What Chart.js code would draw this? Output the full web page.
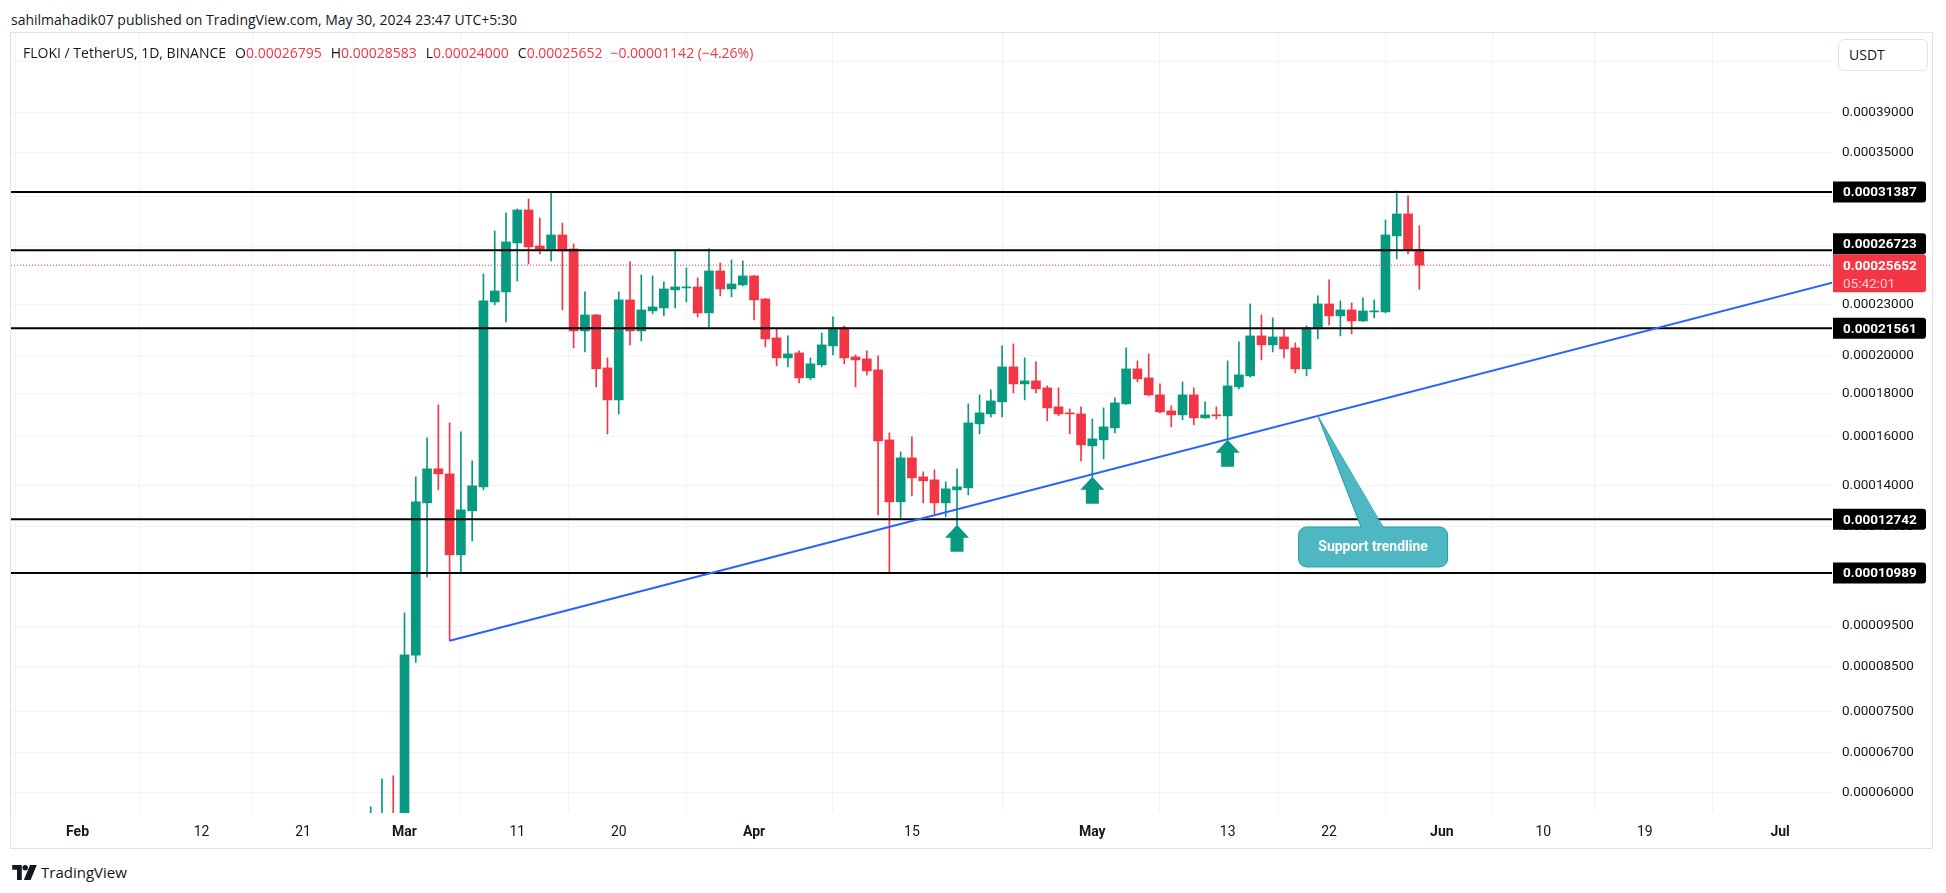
<!DOCTYPE html>
<html>
<head>
<meta charset="utf-8">
<title>FLOKI / TetherUS 1D</title>
<script src="https://cdn.jsdelivr.net/npm/chart.js@4.4.1/dist/chart.umd.min.js"></script>
<style>
  html, body { margin: 0; padding: 0; background: #fff; }
  body { width: 1946px; height: 893px; position: relative; overflow: hidden;
         font-family: "Open Sans", Roboto, sans-serif; color: #131722; }
  #byline { position: absolute; left: 11px; top: 11px; font-size: 14px; line-height: 18px; }
  #frame { position: absolute; left: 10px; top: 32px; width: 1923px; height: 817px;
           box-sizing: border-box; border: 1px solid #e0e3eb; }
  #chart { position: absolute; left: 0; top: 0; }
  #legend { position: absolute; left: 12px; top: 11px; font-size: 14px; line-height: 18px; white-space: nowrap; }
  #legend .r { color: #f23645; }
  #legend .k { margin-left: 9px; }
  #usdt { position: absolute; left: 1827px; top: 6px; width: 90px; height: 32px; box-sizing: border-box;
          border: 1px solid #e0e3eb; border-radius: 6px; background: #fff;
          font-size: 14px; line-height: 30px; padding-left: 10px; }
  #logo { position: absolute; left: 12px; top: 863px; height: 18px; display: flex; align-items: center; }
  #logo span { font-size: 15px; margin-left: 4px; }
</style>
</head>
<body>
<div id="byline">sahilmahadik07 published on TradingView.com, May 30, 2024 23:47 UTC+5:30</div>
<div id="frame">
  <canvas id="chart" width="1921" height="815"></canvas>
  <div id="legend"><span>FLOKI / TetherUS, 1D, BINANCE</span><span class="k">O</span><span class="r">0.00026795</span><span class="k">H</span><span class="r">0.00028583</span><span class="k">L</span><span class="r">0.00024000</span><span class="k">C</span><span class="r">0.00025652</span><span class="r" style="margin-left:8px">−0.00001142 (−4.26%)</span></div>
  <div id="usdt">USDT</div>
</div>
<div id="logo">
  <svg width="25" height="15" viewBox="0 0 36 22">
    <path d="M0 0h14v22h-7v-15h-7z" fill="#131722"/>
    <circle cx="19" cy="4" r="4" fill="#131722"/>
    <path d="M26 0h10l-9 22h-10z" fill="#131722"/>
  </svg>
  <span>TradingView</span>
</div>

<script>
// FLOKI / USDT daily candles (Binance)
const dates = [
  '2024-02-27', '2024-02-28', '2024-02-29',
  '2024-03-01', '2024-03-02', '2024-03-03', '2024-03-04', '2024-03-05', '2024-03-06', '2024-03-07', '2024-03-08', '2024-03-09', '2024-03-10',
  '2024-03-11', '2024-03-12', '2024-03-13', '2024-03-14', '2024-03-15', '2024-03-16', '2024-03-17', '2024-03-18', '2024-03-19', '2024-03-20',
  '2024-03-21', '2024-03-22', '2024-03-23', '2024-03-24', '2024-03-25', '2024-03-26', '2024-03-27', '2024-03-28', '2024-03-29', '2024-03-30', '2024-03-31',
  '2024-04-01', '2024-04-02', '2024-04-03', '2024-04-04', '2024-04-05', '2024-04-06', '2024-04-07', '2024-04-08', '2024-04-09', '2024-04-10',
  '2024-04-11', '2024-04-12', '2024-04-13', '2024-04-14', '2024-04-15', '2024-04-16', '2024-04-17', '2024-04-18', '2024-04-19', '2024-04-20',
  '2024-04-21', '2024-04-22', '2024-04-23', '2024-04-24', '2024-04-25', '2024-04-26', '2024-04-27', '2024-04-28', '2024-04-29', '2024-04-30',
  '2024-05-01', '2024-05-02', '2024-05-03', '2024-05-04', '2024-05-05', '2024-05-06', '2024-05-07', '2024-05-08', '2024-05-09', '2024-05-10',
  '2024-05-11', '2024-05-12', '2024-05-13', '2024-05-14', '2024-05-15', '2024-05-16', '2024-05-17', '2024-05-18', '2024-05-19', '2024-05-20',
  '2024-05-21', '2024-05-22', '2024-05-23', '2024-05-24', '2024-05-25', '2024-05-26', '2024-05-27', '2024-05-28', '2024-05-29', '2024-05-30'
];

const open = [
  0.00004400, 0.00005000, 0.00005400,
  0.00005200, 0.00008770, 0.00013334, 0.00014643, 0.00014442, 0.00011557, 0.00013044, 0.00013935, 0.00023184, 0.00023831,
  0.00027272, 0.00029864, 0.00027048, 0.00026825, 0.00027879, 0.00026825, 0.00021406, 0.00022370, 0.00019335, 0.00017704,
  0.00023312, 0.00021406, 0.00022618, 0.00022804, 0.00023963, 0.00024095, 0.00024161, 0.00022493, 0.00025249, 0.00024028, 0.00024294,
  0.00024904, 0.00023377, 0.00020997, 0.00019874, 0.00020149, 0.00018809, 0.00019495, 0.00020541, 0.00021583, 0.00019928,
  0.00019819, 0.00019228, 0.00015859, 0.00013371, 0.00015092, 0.00014323, 0.00014206, 0.00013334, 0.00013820, 0.00013897,
  0.00016573, 0.00017035, 0.00017607, 0.00019388, 0.00018501, 0.00018655, 0.00018299, 0.00017366, 0.00017082, 0.00017035,
  0.00015599, 0.00015859, 0.00016391, 0.00017510, 0.00019281, 0.00018809, 0.00017949, 0.00017177, 0.00016989, 0.00017949,
  0.00016849, 0.00016989, 0.00016942, 0.00018349, 0.00018913, 0.00021113, 0.00020598, 0.00021055, 0.00020428, 0.00019281,
  0.00021524, 0.00023057, 0.00022309, 0.00022680, 0.00022003, 0.00022555, 0.00022555, 0.00027802, 0.00029537, 0.00026795
];

const high = [
  0.00005777, 0.00006238, 0.00006290,
  0.00009851, 0.00014323, 0.00015946, 0.00017462, 0.00016618, 0.00016212, 0.00014969, 0.00025042, 0.00028187, 0.00029618,
  0.00029946, 0.00030782, 0.00029214, 0.00031387, 0.00028814, 0.00027197, 0.00023831, 0.00022400, 0.00019874, 0.00023831,
  0.00025882, 0.00024973, 0.00024904, 0.00024496, 0.00026677, 0.00025458, 0.00024768, 0.00026825, 0.00025811, 0.00026025, 0.00025953,
  0.00024950, 0.00023400, 0.00021524, 0.00021113, 0.00020260, 0.00019874, 0.00021288, 0.00022247, 0.00021703, 0.00020038,
  0.00020260, 0.00019983, 0.00016167, 0.00015343, 0.00015990, 0.00014522, 0.00014602, 0.00014128, 0.00014643, 0.00017510,
  0.00017949, 0.00018198, 0.00020541, 0.00020654, 0.00019874, 0.00019656, 0.00018400, 0.00018299, 0.00017271, 0.00017366,
  0.00016803, 0.00017318, 0.00017802, 0.00020428, 0.00019711, 0.00020094, 0.00018501, 0.00017414, 0.00018603, 0.00018299,
  0.00017607, 0.00017366, 0.00019711, 0.00020768, 0.00023057, 0.00022370, 0.00022186, 0.00021524, 0.00020711, 0.00021703,
  0.00023570, 0.00024631, 0.00023248, 0.00023120, 0.00023441, 0.00023312, 0.00029053, 0.00031460, 0.00031037, 0.00028583
];

const low = [
  0.00004300, 0.00004700, 0.00004800,
  0.00005100, 0.00008593, 0.00010877, 0.00013820, 0.00009121, 0.00011028, 0.00012011, 0.00013820, 0.00022993, 0.00021943,
  0.00024563, 0.00025740, 0.00026458, 0.00025953, 0.00022680, 0.00020428, 0.00020204, 0.00018349, 0.00016122, 0.00017035,
  0.00020598, 0.00020826, 0.00022432, 0.00022309, 0.00022804, 0.00023184, 0.00022247, 0.00021643, 0.00023570, 0.00023506, 0.00024228,
  0.00022064, 0.00020484, 0.00019441, 0.00019388, 0.00018552, 0.00018706, 0.00019388, 0.00020038, 0.00019549, 0.00018349,
  0.00018965, 0.00012901, 0.00010989, 0.00012795, 0.00013594, 0.00013334, 0.00012937, 0.00012830, 0.00012551, 0.00013631,
  0.00016122, 0.00016895, 0.00016895, 0.00018048, 0.00017704, 0.00018048, 0.00016710, 0.00016942, 0.00016122, 0.00014969,
  0.00014323, 0.00015050, 0.00016167, 0.00017490, 0.00018603, 0.00017900, 0.00017080, 0.00016436, 0.00016756, 0.00016527,
  0.00016820, 0.00016803, 0.00015859, 0.00018248, 0.00018850, 0.00019765, 0.00020204, 0.00019874, 0.00019070, 0.00018913,
  0.00020940, 0.00021762, 0.00021113, 0.00021230, 0.00021980, 0.00022186, 0.00022500, 0.00026097, 0.00026458, 0.00024000
];

const close = [
  0.00005000, 0.00005400, 0.00005200,
  0.00008776, 0.00013371, 0.00014643, 0.00014442, 0.00011557, 0.00013080, 0.00013973, 0.00023248, 0.00023897, 0.00027347,
  0.00029864, 0.00026973, 0.00026825, 0.00027879, 0.00026677, 0.00021406, 0.00022370, 0.00019281, 0.00017704, 0.00023312,
  0.00021406, 0.00022680, 0.00022867, 0.00024028, 0.00024161, 0.00024161, 0.00022493, 0.00025249, 0.00024028, 0.00024361, 0.00024904,
  0.00023312, 0.00020940, 0.00019874, 0.00020094, 0.00018809, 0.00019549, 0.00020598, 0.00021583, 0.00019874, 0.00019765,
  0.00019175, 0.00015815, 0.00013371, 0.00015092, 0.00014284, 0.00014167, 0.00013334, 0.00013858, 0.00013935, 0.00016618,
  0.00017082, 0.00017655, 0.00019388, 0.00018501, 0.00018655, 0.00018248, 0.00017318, 0.00017035, 0.00017035, 0.00015642,
  0.00015902, 0.00016436, 0.00017558, 0.00019281, 0.00018758, 0.00017949, 0.00017129, 0.00016989, 0.00017949, 0.00016849,
  0.00016989, 0.00016942, 0.00018400, 0.00018965, 0.00021113, 0.00020598, 0.00021055, 0.00020372, 0.00019281, 0.00021583,
  0.00023057, 0.00022309, 0.00022680, 0.00022003, 0.00022618, 0.00022618, 0.00027879, 0.00029537, 0.00026795, 0.00025652
];

// price axis and time axis ticks
const yTickValues = [0.00045, 0.00039, 0.00035, 0.00031, 0.00027, 0.00023, 0.0002, 0.00018, 0.00016, 0.00014,
                     0.000125, 0.00011, 0.000095, 0.000085, 0.000075, 0.000067, 0.00006];
const xTickDates = ['2024-02-01', '2024-02-12', '2024-02-21', '2024-03-01', '2024-03-11', '2024-03-20', '2024-04-01', '2024-04-15',
                    '2024-05-01', '2024-05-13', '2024-05-22', '2024-06-01', '2024-06-10', '2024-06-19', '2024-07-01'];
const xTickLabels = ['Feb', '12', '21', 'Mar', '11', '20', 'Apr', '15', 'May', '13', '22', 'Jun', '10', '19', 'Jul'];

// drawings
const levels = [0.00031387, 0.00026723, 0.00021561, 0.00012742, 0.00010989];
const trendDates = ['2024-03-05', '2024-07-10'];
const trendPrices = [0.00009121, 0.00025319];
const arrowDates = ['2024-04-19', '2024-05-01', '2024-05-13'];
const calloutText = 'Support trendline';
const calloutTipDate = '2024-05-21';
const calloutCenter = { day: 85.9, price: 0.0001181 };
const lastPrice = 0.00025652;
const countdown = '05:42:01';

const GREEN = '#089981';
const RED = '#f23645';
const FONT = 'Roboto, "Noto Sans", sans-serif';

const DAY0 = Date.parse('2024-03-01');
function dayIndex(s) {
  return (Date.parse(s) - DAY0) / 86400000;
}
const X_MIN = -34.9, X_MAX = 126.6;

function trendAt(day) {
  const d0 = dayIndex(trendDates[0]), d1 = dayIndex(trendDates[1]);
  const t = (day - d0) / (d1 - d0);
  const l0 = Math.log(trendPrices[0]), l1 = Math.log(trendPrices[1]);
  return Math.exp(l0 + t * (l1 - l0));
}

const candleColor = ctx => close[ctx.dataIndex] >= open[ctx.dataIndex] ? GREEN : RED;

const wicks = dates.map((d, i) => ({ x: dayIndex(d), y: [low[i], high[i]] }));
const bodies = dates.map((d, i) => ({ x: dayIndex(d), y: [open[i], close[i]] }));

const levelSets = levels.map(v => ({
  type: 'line',
  data: [{ x: X_MIN, y: v }, { x: X_MAX, y: v }],
  borderColor: '#000000',
  borderWidth: 2,
  pointRadius: 0,
  order: 2
}));

const overlays = {
  id: 'overlays',
  afterDatasetsDraw(chart) {
    const { ctx, scales: { x, y } } = chart;
    ctx.save();

    // green up arrows under the trendline touches
    ctx.fillStyle = GREEN;
    arrowDates.forEach(d => {
      const i = dates.indexOf(d);
      const px = x.getPixelForValue(dayIndex(d));
      const py = y.getPixelForValue(low[i]);
      ctx.beginPath();
      ctx.moveTo(px, py);
      ctx.lineTo(px + 12, py + 13);
      ctx.lineTo(px + 6.5, py + 13);
      ctx.lineTo(px + 6.5, py + 27);
      ctx.lineTo(px - 6.5, py + 27);
      ctx.lineTo(px - 6.5, py + 13);
      ctx.lineTo(px - 12, py + 13);
      ctx.closePath();
      ctx.fill();
    });

    // callout
    const tipDay = dayIndex(calloutTipDate);
    const tx = x.getPixelForValue(tipDay);
    const ty = y.getPixelForValue(trendAt(tipDay));
    const cx = x.getPixelForValue(calloutCenter.day);
    const cy = y.getPixelForValue(calloutCenter.price);
    const w = 149, h = 40;
    const fill = '#4fb7c1', edge = '#21a1ab';
    ctx.fillStyle = fill;
    ctx.strokeStyle = edge;
    ctx.lineWidth = 1;
    ctx.beginPath();
    ctx.roundRect(cx - w / 2, cy - h / 2, w, h, 8);
    ctx.fill();
    ctx.stroke();
    ctx.beginPath();
    ctx.moveTo(cx - 12, cy - h / 2 + 1);
    ctx.lineTo(tx, ty);
    ctx.lineTo(cx + 10, cy - h / 2 + 1);
    ctx.closePath();
    ctx.fill();
    ctx.beginPath();
    ctx.moveTo(cx - 12, cy - h / 2);
    ctx.lineTo(tx, ty);
    ctx.lineTo(cx + 10, cy - h / 2);
    ctx.stroke();
    ctx.fillStyle = '#ffffff';
    ctx.font = 'bold 14px ' + FONT;
    ctx.textAlign = 'center';
    ctx.textBaseline = 'middle';
    ctx.fillText(calloutText, cx, cy + 1);

    ctx.restore();
  },
  afterDraw(chart) {
    const { ctx, chartArea: a, scales: { y } } = chart;
    const bx = a.right + 1, bw = 93, bh = 21;
    const py = y.getPixelForValue(lastPrice);
    const pTop = py - 11, pH = 38;
    ctx.save();
    ctx.textAlign = 'left';
    ctx.textBaseline = 'middle';

    levels.forEach(v => {
      let top = y.getPixelForValue(v) - bh / 2;
      if (top + bh > pTop && top < pTop + pH) top = pTop - bh;
      ctx.fillStyle = '#000000';
      ctx.beginPath();
      ctx.roundRect(bx, top, bw, bh, [0, 3, 3, 0]);
      ctx.fill();
      ctx.fillStyle = '#ffffff';
      ctx.font = 'bold 13.5px ' + FONT;
      ctx.fillText(v.toFixed(8), bx + 10, top + bh / 2 + 1);
    });

    ctx.fillStyle = RED;
    ctx.beginPath();
    ctx.roundRect(bx, pTop, bw, pH, [0, 3, 3, 0]);
    ctx.fill();
    ctx.fillStyle = '#ffffff';
    ctx.font = 'bold 13.5px ' + FONT;
    ctx.fillText(lastPrice.toFixed(8), bx + 10, py + 1);
    ctx.fillStyle = 'rgba(255,255,255,0.75)';
    ctx.font = '13.5px ' + FONT;
    ctx.fillText(countdown, bx + 10, py + 19);
    ctx.restore();
  }
};

new Chart(document.getElementById('chart'), {
  type: 'bar',
  data: {
    datasets: [
      {
        label: 'wicks',
        data: wicks,
        backgroundColor: candleColor,
        barThickness: 1,
        grouped: false,
        order: 6
      },
      {
        label: 'bodies',
        data: bodies,
        backgroundColor: candleColor,
        barThickness: 9,
        minBarLength: 1,
        grouped: false,
        order: 5
      },
      {
        type: 'line',
        label: 'last price',
        data: [{ x: X_MIN, y: lastPrice }, { x: X_MAX, y: lastPrice }],
        borderColor: RED,
        borderWidth: 1,
        borderDash: [1, 2],
        pointRadius: 0,
        order: 4
      },
      ...levelSets,
      {
        type: 'line',
        label: 'trendline',
        data: trendDates.map((d, i) => ({ x: dayIndex(d), y: trendPrices[i] })),
        borderColor: '#2962ff',
        borderWidth: 2,
        pointRadius: 0,
        order: 1
      }
    ]
  },
  options: {
    responsive: false,
    animation: false,
    layout: { autoPadding: false, padding: 0 },
    plugins: {
      legend: { display: false },
      tooltip: { enabled: false }
    },
    scales: {
      x: {
        type: 'linear',
        min: X_MIN,
        max: X_MAX,
        offset: false,
        afterBuildTicks: s => { s.ticks = xTickDates.map(d => ({ value: dayIndex(d) })); },
        afterFit: s => { s.height = 35; s.paddingLeft = 0; s.paddingRight = 0; },
        ticks: {
          autoSkip: false,
          maxRotation: 0,
          padding: 11,
          color: '#131722',
          font: ctx => ({
            family: FONT,
            size: 14,
            weight: /^[A-Z]/.test(xTickLabels[ctx.index] || '') ? 'bold' : 'normal'
          }),
          callback: (v, i) => xTickLabels[i]
        },
        grid: { color: '#f0f3fa', drawTicks: false },
        border: { display: false }
      },
      y: {
        type: 'logarithmic',
        position: 'right',
        min: 0.000056777,
        max: 0.00048607,
        afterBuildTicks: s => { s.ticks = yTickValues.map(v => ({ value: v })); },
        afterFit: s => { s.width = 100; s.paddingTop = 0; s.paddingBottom = 0; },
        ticks: {
          autoSkip: false,
          padding: 10,
          color: '#131722',
          font: { family: FONT, size: 13.5 },
          callback: v => Number(v).toFixed(8)
        },
        grid: { color: '#f0f3fa', drawTicks: false },
        border: { display: false }
      }
    }
  },
  plugins: [overlays]
});
</script>
</body>
</html>
